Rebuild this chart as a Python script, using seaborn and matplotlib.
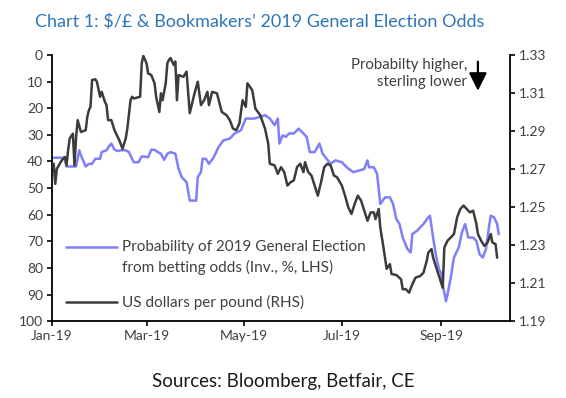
import pandas as pd
import matplotlib.pyplot as plt
import matplotlib.dates as mdates
import matplotlib.ticker as mticker
from matplotlib.lines import Line2D
from matplotlib.legend_handler import HandlerLine2D
import seaborn as sns

# probability of a 2019 general election (%, plotted inverted on LHS)
prob_dates = [
    "2019-01-02", "2019-01-09", "2019-01-10", "2019-01-16", "2019-01-18", "2019-01-19",
    "2019-01-22", "2019-01-24", "2019-01-26", "2019-01-28", "2019-01-31", "2019-02-01",
    "2019-02-04", "2019-02-06", "2019-02-07", "2019-02-09", "2019-02-11", "2019-02-13",
    "2019-02-16", "2019-02-18", "2019-02-21", "2019-02-24", "2019-02-26", "2019-03-02",
    "2019-03-04", "2019-03-06", "2019-03-08", "2019-03-10", "2019-03-12", "2019-03-14",
    "2019-03-16", "2019-03-19", "2019-03-21", "2019-03-23", "2019-03-26", "2019-03-28",
    "2019-04-01", "2019-04-02", "2019-04-04", "2019-04-05", "2019-04-07", "2019-04-09",
    "2019-04-12", "2019-04-15", "2019-04-18", "2019-04-22", "2019-04-25", "2019-04-29",
    "2019-05-02", "2019-05-07", "2019-05-11", "2019-05-14", "2019-05-17", "2019-05-20",
    "2019-05-22", "2019-05-23", "2019-05-25", "2019-05-27", "2019-05-29", "2019-06-01",
    "2019-06-04", "2019-06-07", "2019-06-09", "2019-06-11", "2019-06-14", "2019-06-17",
    "2019-06-19", "2019-06-24", "2019-06-27", "2019-07-01", "2019-07-04", "2019-07-08",
    "2019-07-12", "2019-07-15", "2019-07-17", "2019-07-18", "2019-07-21", "2019-07-23",
    "2019-07-25", "2019-07-28", "2019-07-31", "2019-08-02", "2019-08-04", "2019-08-06",
    "2019-08-08", "2019-08-11", "2019-08-13", "2019-08-14", "2019-08-17", "2019-08-21",
    "2019-08-24", "2019-08-25", "2019-08-27", "2019-08-29", "2019-08-31", "2019-09-01",
    "2019-09-02", "2019-09-04", "2019-09-05", "2019-09-07", "2019-09-09", "2019-09-12",
    "2019-09-14", "2019-09-16", "2019-09-18", "2019-09-21", "2019-09-23", "2019-09-25",
    "2019-09-27", "2019-09-29", "2019-10-01", "2019-10-02", "2019-10-04", "2019-10-06",
    "2019-10-07",
]
prob_vals = [
    38.6, 38.6, 41.9, 41.9, 35.8, 37.7,
    41.9, 40.9, 40.9, 39.0, 39.0, 36.5,
    35.8, 34.0, 33.3, 35.6, 36.1, 35.8,
    35.8, 36.5, 40.3, 40.3, 38.1, 38.4,
    35.6, 35.6, 36.5, 37.1, 39.4, 37.1,
    36.5, 37.1, 42.8, 45.9, 47.8, 54.7,
    54.7, 45.9, 44.0, 39.0, 39.0, 40.9,
    38.4, 34.6, 32.1, 31.4, 29.5, 28.3,
    23.9, 23.9, 23.3, 22.6, 23.9, 26.4,
    23.9, 33.3, 30.2, 30.8, 29.5, 29.5,
    27.7, 29.5, 30.8, 36.5, 36.5, 33.3,
    37.1, 40.9, 39.6, 40.3, 42.2, 44.0,
    43.4, 42.8, 39.6, 42.2, 42.2, 44.6,
    56.0, 53.5, 53.5, 56.0, 61.6, 63.5,
    68.6, 72.9, 74.2, 67.3, 66.0, 63.5,
    61.0, 60.4, 68.6, 76.1, 81.1, 81.8,
    86.2, 92.5, 89.9, 83.7, 76.1, 72.3,
    66.7, 63.5, 68.6, 68.6, 69.8, 74.8,
    76.1, 72.9, 64.2, 60.4, 61.0, 63.5,
    67.3,
]

# US dollars per pound (RHS)
gbp_dates = [
    "2019-01-02", "2019-01-03", "2019-01-04", "2019-01-07", "2019-01-09", "2019-01-10",
    "2019-01-11", "2019-01-12", "2019-01-14", "2019-01-15", "2019-01-16", "2019-01-17",
    "2019-01-19", "2019-01-22", "2019-01-23", "2019-01-24", "2019-01-25", "2019-01-26",
    "2019-01-28", "2019-01-29", "2019-01-31", "2019-02-01", "2019-02-03", "2019-02-04",
    "2019-02-05", "2019-02-07", "2019-02-09", "2019-02-11", "2019-02-12", "2019-02-14",
    "2019-02-16", "2019-02-17", "2019-02-19", "2019-02-20", "2019-02-21", "2019-02-25",
    "2019-02-26", "2019-02-27", "2019-03-01", "2019-03-02", "2019-03-04", "2019-03-06",
    "2019-03-07", "2019-03-09", "2019-03-10", "2019-03-11", "2019-03-13", "2019-03-14",
    "2019-03-15", "2019-03-16", "2019-03-18", "2019-03-19", "2019-03-20", "2019-03-21",
    "2019-03-24", "2019-03-26", "2019-03-28", "2019-03-31", "2019-04-02", "2019-04-03",
    "2019-04-04", "2019-04-06", "2019-04-08", "2019-04-09", "2019-04-11", "2019-04-14",
    "2019-04-17", "2019-04-20", "2019-04-22", "2019-04-24", "2019-04-26", "2019-04-28",
    "2019-04-30", "2019-05-02", "2019-05-03", "2019-05-06", "2019-05-08", "2019-05-11",
    "2019-05-14", "2019-05-16", "2019-05-17", "2019-05-20", "2019-05-22", "2019-05-24",
    "2019-05-26", "2019-05-28", "2019-05-30", "2019-06-01", "2019-06-03", "2019-06-05",
    "2019-06-07", "2019-06-08", "2019-06-10", "2019-06-12", "2019-06-14", "2019-06-16",
    "2019-06-18", "2019-06-20", "2019-06-22", "2019-06-24", "2019-06-26", "2019-06-28",
    "2019-07-01", "2019-07-03", "2019-07-05", "2019-07-07", "2019-07-09", "2019-07-11",
    "2019-07-13", "2019-07-15", "2019-07-17", "2019-07-19", "2019-07-21", "2019-07-22",
    "2019-07-24", "2019-07-25", "2019-07-27", "2019-07-29", "2019-07-31", "2019-08-01",
    "2019-08-04", "2019-08-07", "2019-08-08", "2019-08-10", "2019-08-12", "2019-08-14",
    "2019-08-16", "2019-08-19", "2019-08-21", "2019-08-23", "2019-08-24", "2019-08-26",
    "2019-08-27", "2019-08-29", "2019-08-31", "2019-09-02", "2019-09-03", "2019-09-05",
    "2019-09-07", "2019-09-09", "2019-09-11", "2019-09-13", "2019-09-15", "2019-09-17",
    "2019-09-19", "2019-09-21", "2019-09-23", "2019-09-24", "2019-09-26", "2019-09-28",
    "2019-09-30", "2019-10-02", "2019-10-03", "2019-10-05", "2019-10-06",
]
gbp_vals = [
    1.2728, 1.2622, 1.2701, 1.2745, 1.2763, 1.2719,
    1.2798, 1.2860, 1.2886, 1.2719, 1.2868, 1.2957,
    1.2895, 1.2904, 1.2974, 1.3010, 1.3027, 1.3168,
    1.3172, 1.3159, 1.3080, 1.3106, 1.3053, 1.3036,
    1.2957, 1.2957, 1.2904, 1.2868, 1.2851, 1.2807,
    1.2860, 1.2913, 1.3062, 1.3080, 1.3071, 1.3080,
    1.3256, 1.3295, 1.3256, 1.3203, 1.3194, 1.3151,
    1.3080, 1.3000, 1.3098, 1.3062, 1.3151, 1.3256,
    1.3274, 1.3284, 1.3247, 1.3265, 1.3062, 1.3194,
    1.3185, 1.3212, 1.2994, 1.3099, 1.3159, 1.3099,
    1.3036, 1.3062, 1.3106, 1.3036, 1.3106, 1.3098,
    1.3000, 1.2983, 1.2957, 1.2913, 1.2904, 1.2939,
    1.3062, 1.3027, 1.3151, 1.3115, 1.3018, 1.2983,
    1.2913, 1.2834, 1.2728, 1.2719, 1.2675, 1.2710,
    1.2684, 1.2613, 1.2631, 1.2640, 1.2710, 1.2728,
    1.2684, 1.2736, 1.2684, 1.2666, 1.2613, 1.2560,
    1.2631, 1.2710, 1.2728, 1.2719, 1.2666, 1.2657,
    1.2613, 1.2560, 1.2499, 1.2464, 1.2517, 1.2560,
    1.2534, 1.2481, 1.2428, 1.2472, 1.2472, 1.2437,
    1.2490, 1.2393, 1.2287, 1.2175, 1.2200, 1.2148,
    1.2143, 1.2120, 1.2068, 1.2068, 1.2050, 1.2094,
    1.2129, 1.2138, 1.2155, 1.2217, 1.2261, 1.2279,
    1.2234, 1.2182, 1.2129, 1.2076, 1.2287, 1.2323,
    1.2340, 1.2358, 1.2446, 1.2490, 1.2508, 1.2490,
    1.2472, 1.2481, 1.2411, 1.2358, 1.2323, 1.2296,
    1.2314, 1.2358, 1.2314, 1.2305, 1.2234,
]

prob_label = "Probability of 2019 General Election\nfrom betting odds (Inv., %, LHS)"
gbp_label = "US dollars per pound (RHS)"

prob_df = pd.DataFrame({"date": pd.to_datetime(prob_dates), "value": prob_vals})
gbp_df = pd.DataFrame({"date": pd.to_datetime(gbp_dates), "value": gbp_vals})


class FirstLineHandler(HandlerLine2D):
    """legend line sitting level with the first line of a two-line label"""

    def __init__(self, shift, **kw):
        super().__init__(**kw)
        self.shift = shift

    def create_artists(self, legend, orig_handle, xdescent, ydescent, width, height,
                       fontsize, trans):
        artists = super().create_artists(legend, orig_handle, xdescent, ydescent,
                                         width, height, fontsize, trans)
        for a in artists:
            a.set_ydata([y + self.shift for y in a.get_ydata()])
        return artists


sns.set_style("ticks")
plt.rcParams['font.family'] = ['Lato', 'DejaVu Sans']

blue = "#7f7ffa"
dark = "#3c3c3c"
txt = "#404040"

fig = plt.figure(figsize=(5.66, 3.98), dpi=100)
ax = fig.add_axes([0.092, 0.193, 0.809, 0.669])
ax2 = ax.twinx()

sns.lineplot(data=prob_df, x="date", y="value", ax=ax, color=blue, lw=1.8, legend=False)
sns.lineplot(data=gbp_df, x="date", y="value", ax=ax2, color=dark, lw=1.8, legend=False)

# left axis, inverted
ax.set_ylim(100, 0)
ax.yaxis.set_major_locator(mticker.MultipleLocator(10))
ax2.set_ylim(1.19, 1.33)
ax2.yaxis.set_major_locator(mticker.FixedLocator([1.19, 1.21, 1.23, 1.25, 1.27, 1.29, 1.31, 1.33]))
ax2.yaxis.set_major_formatter(mticker.FormatStrFormatter("%.2f"))

ax.set_xlim(pd.Timestamp("2019-01-01"), pd.Timestamp("2019-10-14"))
ax.xaxis.set_major_locator(mdates.MonthLocator(bymonth=[1, 3, 5, 7, 9]))
ax.xaxis.set_major_formatter(mdates.DateFormatter("%b-%y"))

for a in (ax, ax2):
    a.set_xlabel("")
    a.set_ylabel("")
    a.tick_params(direction="out", length=3.5, width=1.2, color="black",
                  labelsize=10, labelcolor=txt, pad=3)
    for side in ("left", "right", "bottom"):
        a.spines[side].set_linewidth(1.3)
        a.spines[side].set_color("black")
    a.spines["top"].set_visible(False)
ax.spines["right"].set_visible(False)
ax2.spines["left"].set_visible(False)
ax2.spines["bottom"].set_visible(False)

h_prob = Line2D([], [], color=blue, lw=1.8)
h_gbp = Line2D([], [], color=dark, lw=1.8)
leg = ax2.legend([h_prob, h_gbp], [prob_label, gbp_label], loc="lower left",
                 bbox_to_anchor=(0.0, -0.01), frameon=False, fontsize=11,
                 handlelength=3.35, handletextpad=0.3, labelspacing=1.33,
                 labelcolor=txt, handler_map={h_prob: FirstLineHandler(7.5)})
leg.get_texts()[0].set_linespacing(1.45)

ax2.text(0.906, 0.988, "Probabilty higher,\nsterling lower", transform=ax2.transAxes,
         ha="right", va="top", multialignment="right", fontsize=10.8, color=txt,
         linespacing=1.25)
ax2.annotate("", xy=(0.93, 0.855), xytext=(0.93, 0.985), xycoords="axes fraction",
             arrowprops=dict(arrowstyle="-|>,head_width=0.45,head_length=0.9",
                             mutation_scale=12, color="black", lw=1.6))

fig.text(0.458, 0.945, "Chart 1: \\$/£ & Bookmakers’ 2019 General Election Odds",
         ha="center", va="center", fontsize=13, color="#2e75b6")
fig.text(0.5, 0.042, "Sources: Bloomberg, Betfair, CE", ha="center", va="center",
         fontsize=13.5, color="#1a1a1a")

fig.savefig("out.png", dpi=100)
